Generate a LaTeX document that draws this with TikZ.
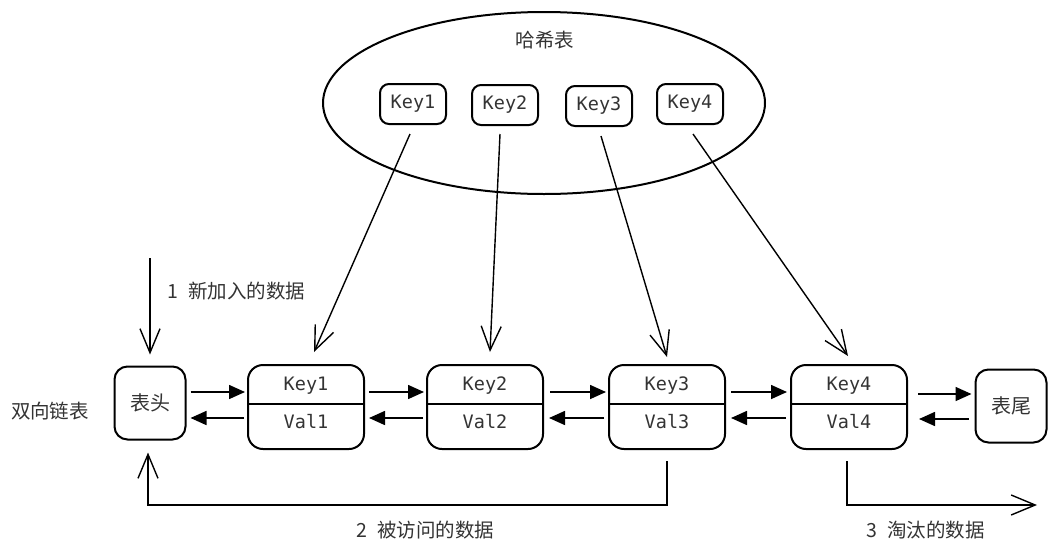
\documentclass[tikz,border=0pt]{standalone}
\usepackage{fontspec}
\setmonofont{DejaVu Sans Mono}
\newfontfamily\cjk{Noto Sans CJK SC}
\usetikzlibrary{arrows.meta,calc,shapes.geometric}
\begin{document}
\begin{tikzpicture}[x=1pt,y=-1pt,
  keybox/.style={draw,line width=2pt,rounded corners=9pt,minimum width=66pt,minimum height=40pt,font=\ttfamily\fontsize{18.5}{18.5}\selectfont,text=black!80},
  listbox/.style={draw,line width=2pt,rounded corners=15pt,minimum width=116pt,minimum height=84pt},
  endbox/.style={draw,line width=2pt,rounded corners=13pt,minimum width=71pt,minimum height=73pt,font=\cjk\fontsize{20}{20}\selectfont,text=black!80},
  lbl/.style={font=\ttfamily\fontsize{18.5}{18.5}\selectfont,text=black!80},
  cn/.style={font=\cjk\fontsize{19.5}{19.5}\selectfont,text=black!80},
  fwd/.style={line width=1.6pt,-{Triangle[length=16pt,width=14pt]}},
  longarr/.style={line width=1.4pt,-{Straight Barb[length=24pt,width=20pt,line width=1.4pt]}}
]
\useasboundingbox (0,0) rectangle (1060,552);
% hash table
\node[draw,ellipse,line width=2pt,minimum width=442pt,minimum height=182pt] (hash) at (544,103) {};
\node[cn] (hashlbl) at (545,40) {哈希表};
\node[keybox] (k1) at (413,104) {Key1};
\node[keybox] (k2) at (505,105) {Key2};
\node[keybox] (k3) at (599,106) {Key3};
\node[keybox] (k4) at (690,104) {Key4};
% list
\node[cn] (dll) at (50,411) {双向链表};
\node[endbox] (head) at (150,403) {表头};
\node[endbox] (tail) at (1011,406) {表尾};
\foreach \i/\x in {1/306,2/485,3/667,4/849}{
  \node[listbox] (n\i) at (\x,407) {};
  \draw[line width=2.8pt] (n\i.west |- 0,404) -- (n\i.east |- 0,404);
  \node[lbl] (kk\i) at (\x,386) {Key\i};
  \node[lbl] (vv\i) at (\x,422) {Val\i};
}
% forward arrows
\draw[fwd] ($(head.east|-0,392)+(4,0)$) -- ($(n1.west|-0,392)+(-2,0)$);
\draw[fwd] ($(n1.east|-0,392)+(4,0)$) -- ($(n2.west|-0,392)+(-2,0)$);
\draw[fwd] ($(n2.east|-0,392)+(6,0)$) -- ($(n3.west|-0,392)+(-2,0)$);
\draw[fwd] ($(n3.east|-0,392)+(5,0)$) -- ($(n4.west|-0,392)+(-3,0)$);
\draw[fwd] ($(n4.east|-0,394)+(10,0)$) -- ($(tail.west|-0,394)+(-3,0)$);
% backward arrows
\draw[fwd] ($(n1.west|-0,418)+(-3,0)$) -- ($(head.east|-0,418)+(4,0)$);
\draw[fwd] ($(n2.west|-0,418)+(-3,0)$) -- ($(n1.east|-0,418)+(4,0)$);
\draw[fwd] ($(n3.west|-0,418)+(-4,0)$) -- ($(n2.east|-0,418)+(5,0)$);
\draw[fwd] ($(n4.west|-0,418)+(-4,0)$) -- ($(n3.east|-0,418)+(5,0)$);
\draw[fwd] ($(tail.west|-0,419)+(-6,0)$) -- ($(n4.east|-0,419)+(11,0)$);
% key pointers
\draw[longarr] ($(k1.south)+(-3,9)$) -- ($(n1.north)+(8,-12)$);
\draw[longarr] ($(k2.south)+(-5,8)$) -- ($(n2.north)+(5,-12)$);
\draw[longarr] ($(k3.south)+(2,9)$) -- ($(n3.north)+(0,-7)$);
\draw[longarr] ($(k4.south)+(3,9)$) -- ($(n4.north)+(-1,-8)$);
% labelled arrows
\coordinate (newin) at (150,258);
\draw[longarr] (newin) -- ($(head.north)+(0,-11)$);
\node[cn,anchor=west] (l1) at (164,291) {1\hspace{10pt}新加入的数据};
\draw[longarr] ($(n3.south)+(0,11)$) |- (148,505) -- ($(head.south)+(-2,12)$);
\node[cn,anchor=west] (l2) at (353,530) {2\hspace{10pt}被访问的数据};
\coordinate (outend) at (1037,505);
\draw[longarr] ($(n4.south)+(-2,11)$) |- (outend);
\node[cn,anchor=west] (l3) at (863,530) {3\hspace{10pt}淘汰的数据};
\end{tikzpicture}
\end{document}
